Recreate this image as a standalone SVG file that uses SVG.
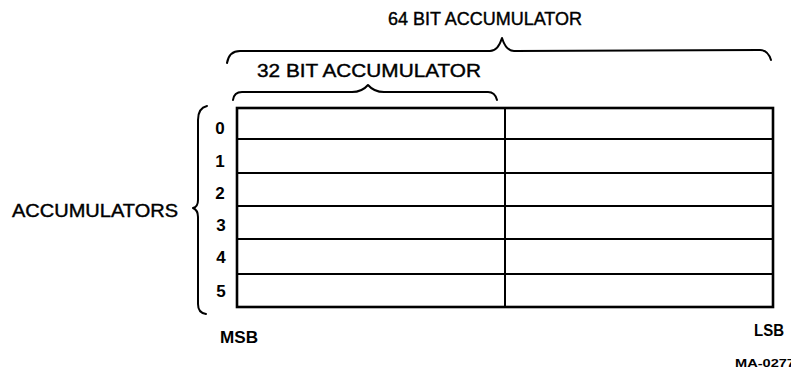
<svg xmlns="http://www.w3.org/2000/svg" width="791" height="372" viewBox="0 0 791 372">
<style>
text{font-family:"Liberation Sans",Arial,sans-serif;fill:#000}
.lbl{font-size:18px;stroke:#000;stroke-width:0.4}
.dig{font-size:17px;font-weight:bold;text-anchor:middle}
.b{font-size:17px;font-weight:bold}
.brace{fill:none;stroke:#000;stroke-width:2;stroke-linecap:round;stroke-linejoin:round}
.row{stroke:#000;stroke-width:2}
.frame{fill:none;stroke:#000;stroke-width:2.6}
</style>
<rect width="791" height="372" fill="#fff"/>
<g id="braces">
<path class="brace" d="M227 63 Q229 51 240 51 L490 51 Q498 51 502 38 Q506 51 514 51 L760 50 Q768 50 771 60"/>
<path class="brace" d="M233 100 Q234 92 242 92 L352 92 Q362 92 368 85 Q374 92 384 92 L488 92 Q495 92 497 100"/>
<path class="brace" d="M207 106 Q198 108 198 120 L198 200 Q198 207 193 208 Q198 210 198 217 L198 304 Q198 313 206 314"/>
</g>
<g id="accumulators">
<rect class="frame" x="237" y="108" width="536" height="199"/>
<line class="row" x1="237" y1="139" x2="773" y2="139"/>
<line class="row" x1="237" y1="173" x2="773" y2="173"/>
<line class="row" x1="237" y1="206" x2="773" y2="206"/>
<line class="row" x1="237" y1="239" x2="773" y2="239"/>
<line class="row" x1="237" y1="274" x2="773" y2="274"/>
<line class="row" x1="505" y1="108" x2="505" y2="307"/>
</g>
<g id="labels">
<text class="lbl" x="388" y="25" textLength="194" lengthAdjust="spacingAndGlyphs">64 BIT ACCUMULATOR</text>
<text class="lbl" x="257" y="77" textLength="224" lengthAdjust="spacingAndGlyphs">32 BIT ACCUMULATOR</text>
<text class="lbl" x="12" y="217" textLength="166" lengthAdjust="spacingAndGlyphs">ACCUMULATORS</text>
<text class="dig" x="220" y="134">0</text>
<text class="dig" x="220" y="167">1</text>
<text class="dig" x="220" y="199">2</text>
<text class="dig" x="221" y="231">3</text>
<text class="dig" x="221" y="263">4</text>
<text class="dig" x="221" y="297">5</text>
<text class="b" x="220" y="343" textLength="38" lengthAdjust="spacingAndGlyphs">MSB</text>
<text class="b" x="754" y="336" textLength="30" lengthAdjust="spacingAndGlyphs">LSB</text>
<text style="font-size:10px;font-weight:bold" x="735" y="367" textLength="60" lengthAdjust="spacingAndGlyphs">MA-0277</text>
</g>
</svg>
